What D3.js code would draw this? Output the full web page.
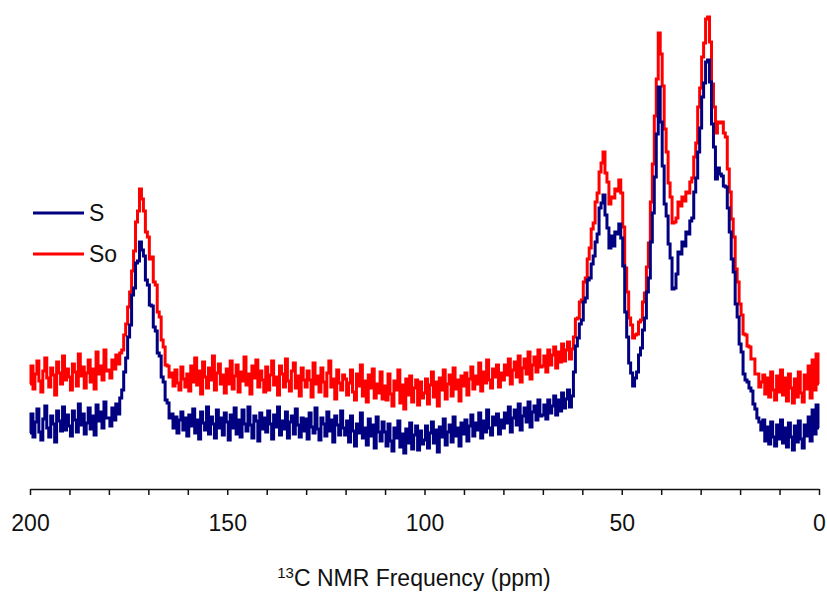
<!DOCTYPE html>
<html>
<head>
<meta charset="utf-8">
<script src="https://cdn.jsdelivr.net/npm/d3@7"></script>
<style>
  body { margin: 0; background: #fff; }
  text { font-family: "Liberation Sans", Arial, sans-serif; fill: #111; }
</style>
</head>
<body>
<div id="chart"></div>
<script>
// spectra sampled every 0.5 ppm, from 200 ppm down to 0 ppm (401 points)
const ppmStart = 200, ppmStep = 0.5;

// S (navy), intensity in arbitrary units
const seriesS = [
  37, 56, 33, 48, 61, 38, 30, 51, 64, 42, 33, 54, 46, 28, 59, 49, 39, 63, 40, 55,
  44, 34, 59, 50, 38, 66, 45, 56, 36, 47, 62, 41, 54, 35, 65, 49, 58, 42, 68, 52,
  52, 44, 62, 50, 66, 56, 72, 80, 98, 112, 133, 145, 175, 182, 207, 209, 228, 220, 214, 190,
  185, 165, 164, 143, 139, 117, 114, 93, 88, 70, 67, 52, 56, 42, 53, 37, 50, 58, 40, 52,
  34, 55, 44, 61, 37, 50, 31, 58, 47, 40, 63, 36, 53, 46, 32, 60, 42, 52, 35, 57,
  48, 30, 55, 42, 62, 36, 50, 33, 60, 46, 39, 63, 45, 32, 54, 49, 29, 57, 41, 52,
  38, 59, 46, 31, 55, 43, 63, 35, 49, 41, 58, 32, 48, 54, 36, 61, 45, 33, 52, 39,
  51, 31, 57, 43, 37, 62, 41, 30, 52, 46, 34, 58, 39, 50, 28, 54, 45, 35, 59, 42,
  35, 49, 28, 54, 39, 24, 46, 37, 57, 32, 42, 25, 51, 34, 45, 22, 53, 38, 29, 48,
  38, 24, 46, 29, 19, 42, 32, 49, 23, 36, 17, 41, 27, 47, 21, 35, 44, 20, 39, 26,
  30, 44, 22, 37, 48, 27, 40, 18, 43, 33, 51, 25, 38, 45, 28, 53, 34, 42, 24, 47,
  36, 50, 29, 44, 55, 34, 47, 40, 57, 32, 49, 38, 60, 42, 35, 53, 45, 56, 36, 50,
  42, 57, 47, 63, 38, 52, 60, 45, 66, 40, 54, 62, 48, 68, 43, 58, 64, 50, 70, 54,
  55, 65, 51, 70, 57, 64, 74, 55, 70, 59, 77, 62, 71, 80, 63, 74, 98, 124, 132, 146,
  150, 168, 172, 190, 192, 206, 214, 228, 236, 262, 267, 275, 255, 242, 222, 234, 224, 238, 236, 246,
  232, 204, 158, 133, 107, 97, 84, 92, 98, 115, 122, 140, 152, 178, 192, 228, 257, 293, 336, 383,
  348, 304, 266, 254, 226, 212, 181, 182, 196, 218, 216, 228, 224, 238, 236, 249, 252, 278, 292, 318,
  342, 373, 387, 408, 410, 388, 346, 323, 291, 302, 296, 294, 284, 283, 262, 238, 211, 198, 166, 153,
  126, 118, 96, 90, 88, 82, 79, 66, 61, 52, 48, 40, 50, 29, 43, 26, 48, 33, 24, 45,
  31, 50, 27, 42, 23, 47, 33, 20, 44, 28, 49, 31, 22, 45, 34, 53, 29, 60, 36, 65,
  42
];

// So (red), intensity in arbitrary units
const seriesSo = [
  86, 104, 81, 96, 109, 89, 78, 99, 112, 92, 83, 102, 95, 75, 108, 97, 86, 114, 90, 101,
  93, 80, 106, 98, 84, 116, 94, 103, 82, 97, 110, 88, 101, 81, 118, 96, 104, 90, 120, 99,
  100, 92, 110, 101, 115, 106, 117, 120, 135, 146, 163, 178, 199, 219, 248, 259, 281, 271, 259, 238,
  233, 211, 213, 188, 185, 158, 153, 130, 123, 105, 104, 93, 97, 84, 100, 87, 80, 103, 91, 83,
  96, 79, 104, 88, 112, 85, 99, 76, 108, 93, 82, 102, 90, 114, 80, 97, 106, 86, 95, 77,
  101, 86, 109, 81, 94, 105, 78, 98, 89, 113, 85, 96, 76, 104, 92, 110, 83, 99, 90, 78,
  103, 80, 95, 109, 85, 93, 75, 104, 96, 83, 111, 89, 79, 99, 107, 82, 94, 74, 102, 90,
  83, 99, 90, 73, 107, 86, 94, 78, 102, 88, 74, 97, 109, 83, 91, 71, 100, 87, 80, 95,
  91, 75, 87, 100, 78, 70, 96, 84, 105, 74, 89, 68, 95, 82, 101, 72, 86, 77, 98, 71,
  84, 70, 96, 76, 64, 89, 80, 100, 67, 85, 61, 91, 75, 94, 68, 82, 90, 65, 88, 72,
  77, 91, 66, 85, 98, 73, 88, 64, 92, 80, 100, 71, 86, 95, 74, 102, 81, 90, 69, 94,
  84, 97, 75, 91, 103, 81, 94, 86, 107, 79, 98, 87, 110, 90, 82, 101, 93, 105, 83, 97,
  90, 105, 95, 111, 86, 100, 108, 93, 114, 88, 102, 111, 96, 118, 91, 105, 113, 98, 120, 103,
  104, 114, 98, 120, 105, 115, 123, 102, 118, 108, 126, 109, 120, 128, 111, 121, 133, 151, 152, 168,
  170, 188, 192, 211, 222, 241, 247, 268, 277, 298, 307, 318, 297, 288, 266, 273, 272, 281, 279, 290,
  277, 243, 202, 178, 152, 145, 132, 135, 136, 148, 150, 168, 177, 203, 227, 268, 306, 354, 391, 437,
  416, 384, 341, 318, 287, 273, 247, 248, 252, 268, 264, 273, 269, 278, 277, 288, 292, 313, 327, 363,
  382, 413, 427, 451, 453, 428, 386, 363, 337, 348, 347, 348, 337, 333, 301, 278, 251, 233, 201, 188,
  166, 155, 136, 135, 124, 123, 111, 111, 96, 96, 83, 88, 95, 76, 92, 73, 98, 80, 70, 94,
  78, 100, 75, 92, 69, 96, 82, 67, 91, 73, 98, 77, 68, 95, 81, 104, 72, 110, 80, 116,
  86
];

const axisTicks = d3.range(200, -1, -10);
const axisLabels = [200, 150, 100, 50, 0];
const legendItems = [
  { name: "S", color: "#000080" },
  { name: "So", color: "#ff0000" }
];

const width = 827, height = 593;

const svg = d3.select("#chart")
  .append("svg")
  .attr("width", width)
  .attr("height", height);

const x = d3.scaleLinear().domain([200, 0]).range([30, 819]);
const y = d3.scaleLinear().domain([0, 460]).range([470, 10]);

const line = d3.line()
  .x((d, i) => x(ppmStart - i * ppmStep))
  .y((d) => y(d))
  .curve(d3.curveStep);

// red underneath, navy on top
svg.append("path")
  .datum(seriesSo)
  .attr("fill", "none")
  .attr("stroke", "#ff0000")
  .attr("stroke-width", 3)
  .attr("d", line);

svg.append("path")
  .datum(seriesS)
  .attr("fill", "none")
  .attr("stroke", "#000080")
  .attr("stroke-width", 3)
  .attr("d", line);

// x axis
const axis = svg.append("g")
  .attr("transform", "translate(0,489)")
  .call(d3.axisBottom(x)
    .tickValues(axisTicks)
    .tickSizeInner(6)
    .tickSizeOuter(0)
    .tickFormat((d) => axisLabels.includes(d) ? d : ""));

axis.select(".domain").attr("stroke", "#111").attr("stroke-width", 1.5);
axis.selectAll(".tick line").attr("stroke", "#111").attr("stroke-width", 1.5);
axis.selectAll(".tick text")
  .attr("y", 26)
  .attr("font-size", 23)
  .attr("font-family", "Liberation Sans, Arial, sans-serif")
  .attr("fill", "#111");

// axis title with superscript
const title = svg.append("text")
  .attr("x", 414)
  .attr("y", 586)
  .attr("text-anchor", "middle")
  .attr("font-size", 23);
title.append("tspan").attr("font-size", 15).attr("dy", -8).text("13");
title.append("tspan").attr("dy", 8).text("C NMR Frequency (ppm)");

// legend
const legend = svg.append("g")
  .selectAll("g")
  .data(legendItems)
  .join("g")
  .attr("transform", (d, i) => `translate(33,${213 + i * 41})`);

legend.append("line")
  .attr("x1", 0).attr("x2", 51)
  .attr("stroke", (d) => d.color)
  .attr("stroke-width", 3);

legend.append("text")
  .attr("x", 56)
  .attr("y", 8)
  .attr("font-size", 23)
  .text((d) => d.name);
</script>
</body>
</html>
